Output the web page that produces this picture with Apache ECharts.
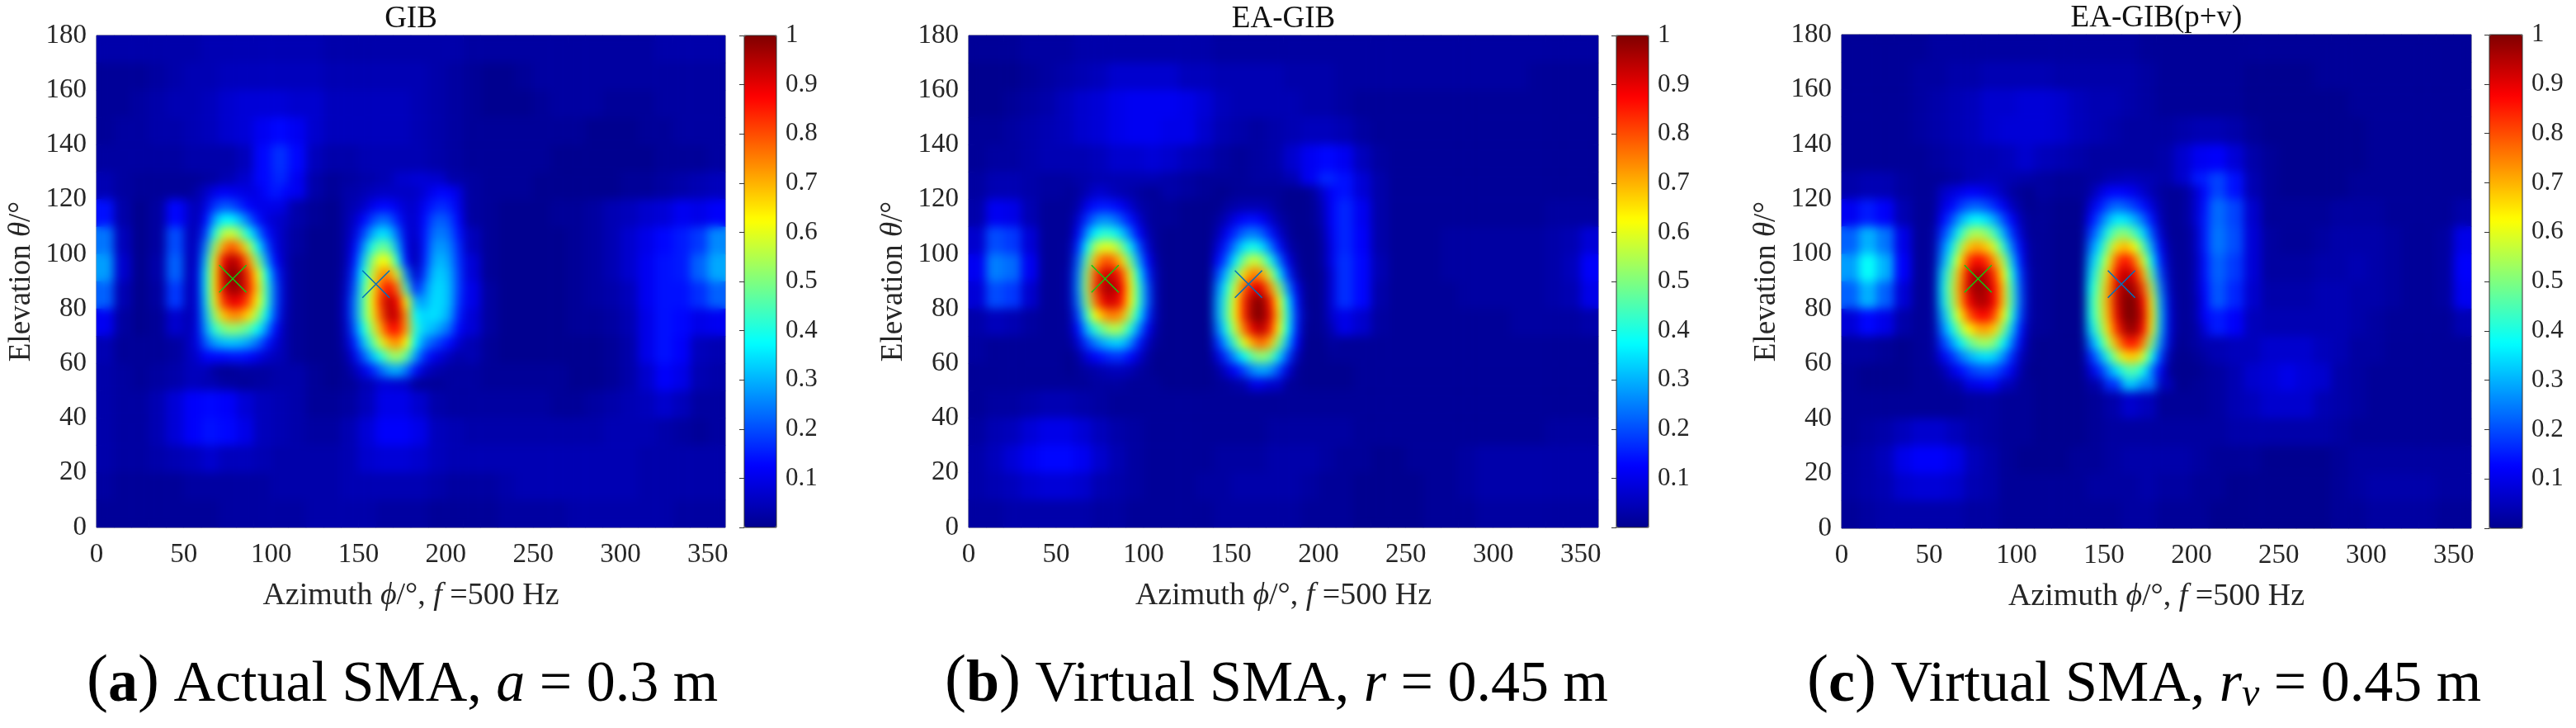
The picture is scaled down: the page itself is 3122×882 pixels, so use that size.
<!DOCTYPE html>
<html><head><meta charset="utf-8"><title>GIB heatmaps</title>
<script src="https://cdn.jsdelivr.net/npm/echarts@6/dist/echarts.min.js"></script>
<style>html,body{margin:0;padding:0;background:#fff}#c{width:3122px;height:882px}</style>
</head><body><div id="c"></div>
<script>
// Values are percent of the colour scale, rows listed from the top of the plot downward.
const azCoarse = [5,15,25,35,45,55,65,75,85,95,105,115,125,135,145,155,165,175,185,195,205,215,225,235,245,255,265,275,285,295,305,315,325,335,345,355];
const elCoarse = [175,165,155,145,135,125,115,105,95,85,75,65,55,45,35,25,15,5];
const azLeftFine = [57.5,62.5,67.5,72.5,77.5,82.5,87.5,92.5,97.5,102.5,107.5];
const azRightFine = [142.5,147.5,152.5,157.5,162.5,167.5,172.5,177.5,182.5,187.5,192.5,197.5,202.5,207.5];
const elFine = [122.5,117.5,112.5,107.5,102.5,97.5,92.5,87.5,82.5,77.5,72.5,67.5,62.5,57.5];

const gibCoarse = [
[3,3,3,3,3,3,4,4,4,4,4,4,4,3,3,3,3,3,3,3,3,2,2,2,2,2,2,2,2,2,2,2,3,3,3,3],
[1,1,1,2,3,4,4,5,5,5,5,5,5,4,4,4,4,4,4,3,2,1,0,0,1,2,2,2,2,2,2,2,2,2,2,2],
[1,1,2,3,4,4,5,7,8,8,8,7,7,5,5,5,5,5,4,3,2,1,0,0,0,1,2,2,2,1,1,1,2,2,2,2],
[1,2,2,3,3,4,5,7,8,11,13,11,7,5,5,5,5,5,4,3,2,1,1,1,1,1,1,1,0,0,0,1,1,2,2,2],
[2,2,2,2,2,3,3,3,5,13,17,13,5,3,3,4,4,4,4,3,2,1,1,1,1,1,0,0,0,0,0,0,1,1,1,2],
[4,2,1,1,1,1,2,4,7,13,16,11,3,1,2,3,4,7,8,7,3,2,1,1,1,0,0,0,0,0,1,1,2,3,4,5],
[14,3,0,2,13,7,28,35,28,18,10,3,1,0,2,7,14,13,16,17,8,2,1,0,0,0,1,1,2,4,5,7,8,11,10,12],
[24,5,0,2,20,5,50,62,55,30,10,2,0,0,2,15,30,25,12,20,17,5,1,0,0,0,0,1,2,4,7,10,13,15,18,26],
[28,7,0,3,22,4,60,95,70,32,10,1,0,0,3,25,55,40,4,28,25,8,1,0,0,0,0,1,2,4,7,11,14,15,22,29],
[22,4,0,2,18,4,55,85,70,30,7,1,0,0,4,30,70,65,18,30,28,10,2,0,0,0,0,1,2,3,5,11,14,14,17,22],
[11,2,0,1,7,4,35,50,42,17,3,1,0,0,4,30,65,72,30,28,25,8,2,0,0,0,0,1,1,2,4,10,14,13,10,11],
[4,1,1,1,2,5,14,16,14,7,3,1,0,0,3,17,38,45,22,16,12,4,1,0,0,0,0,0,0,1,3,10,14,12,5,4],
[3,2,1,2,3,5,4,2,1,2,3,3,1,0,1,4,8,7,1,1,2,2,1,1,1,1,1,0,0,1,3,7,12,10,4,3],
[3,2,2,4,8,12,13,12,8,5,4,3,1,1,2,5,10,10,7,3,2,2,2,2,2,2,1,1,2,3,4,5,7,5,2,2],
[3,2,2,4,8,12,14,13,10,5,4,3,2,2,4,8,12,12,10,5,4,3,3,3,3,3,3,3,3,4,4,4,3,2,1,2],
[3,2,2,3,4,5,7,5,5,4,3,3,3,3,4,7,8,8,7,5,4,4,4,4,4,4,4,4,4,4,4,3,3,3,3,3],
[2,1,1,1,1,2,2,2,2,2,3,3,3,3,4,4,4,4,4,3,2,2,2,3,4,4,4,4,4,4,4,3,3,3,3,3],
[1,1,1,1,1,1,1,2,2,2,2,2,3,3,3,3,2,2,2,1,1,1,1,2,2,2,2,3,3,3,3,3,3,2,2,2]];
const gibLeft = [
[3,6,10,12,11,10,9,10,13,15,13],
[4,9,17,21,20,16,12,10,10,10,9],
[4,13,28,37,37,31,22,14,9,7,6],
[5,18,40,55,58,50,38,25,14,8,5],
[6,25,52,72,80,72,56,37,20,9,5],
[7,31,60,88,96,90,72,50,28,12,5],
[8,35,64,92,100,96,82,62,38,17,6],
[8,35,64,90,98,96,84,66,42,20,6],
[8,33,60,82,90,88,78,62,42,20,6],
[8,30,52,68,74,73,65,52,36,18,5],
[9,27,42,49,52,50,46,38,26,13,4],
[9,21,28,31,32,31,28,23,15,8,4],
[7,12,13,13,14,14,13,10,7,5,4],
[5,5,2,1,1,2,2,2,2,3,3]];
const gibRight = [
[3,3,4,5,6,6,6,6,6,8,11,13,12,9],
[3,4,6,10,13,13,10,7,7,11,15,17,15,10],
[3,6,12,18,23,22,15,8,7,13,20,22,19,12],
[3,8,18,28,35,33,22,9,6,14,23,25,22,14],
[3,11,25,40,48,46,29,10,4,14,26,28,25,16],
[3,14,32,50,62,60,40,13,3,15,28,31,27,17],
[4,17,38,56,72,75,58,26,6,18,31,33,29,18],
[5,20,42,60,78,88,76,44,15,24,33,34,30,18],
[6,23,44,62,82,95,88,62,30,28,34,34,30,17],
[6,23,44,60,78,94,92,72,38,33,35,33,28,15],
[5,20,38,54,70,85,86,72,42,33,31,27,22,12],
[4,15,30,44,58,70,74,62,38,26,21,17,13,7],
[2,9,20,30,40,50,54,46,28,17,11,8,5,3],
[1,4,9,15,22,28,30,24,14,7,4,3,2,2]];

const eaCoarse = [
[1,1,1,2,2,2,3,3,3,3,3,3,3,3,2,2,2,2,2,2,2,2,2,2,2,2,2,2,2,2,2,2,2,2,2,2],
[0,0,0,1,2,3,4,5,7,7,7,7,5,5,4,4,4,4,3,3,3,2,2,2,2,2,2,2,2,2,2,2,1,1,1,1],
[0,0,1,2,3,5,7,8,10,11,11,11,10,8,5,4,4,4,4,3,3,2,1,1,1,1,1,1,1,1,1,1,1,1,1,1],
[1,1,2,3,4,5,7,8,10,11,11,10,10,7,4,3,2,3,4,5,5,4,2,1,1,1,1,1,1,1,1,1,1,1,1,1],
[1,2,2,3,4,4,4,5,7,7,8,7,5,4,2,1,2,3,7,11,13,11,5,2,1,1,1,1,1,1,1,1,1,1,1,1],
[2,4,4,3,2,2,3,4,4,4,4,3,2,1,1,1,2,2,4,11,16,14,8,3,1,1,1,1,1,1,1,1,1,1,1,1],
[3,11,10,4,1,1,8,13,13,8,3,1,0,0,1,3,4,2,1,7,14,16,11,3,1,1,1,1,1,1,1,1,1,2,2,2],
[7,20,18,8,1,1,15,32,30,15,3,0,0,0,2,14,20,13,2,3,13,16,12,3,1,1,1,2,2,2,2,2,2,3,4,8],
[11,25,23,11,1,1,18,70,65,25,4,0,0,0,3,28,52,35,5,2,12,17,13,4,1,1,1,2,2,2,2,2,2,3,5,12],
[8,20,18,7,1,1,17,80,85,30,5,0,0,0,4,36,85,60,12,2,11,17,13,3,1,1,1,1,2,2,2,2,2,3,4,10],
[3,5,4,2,1,1,13,50,55,22,3,0,0,0,4,30,85,60,12,1,7,10,7,2,1,1,1,1,1,1,1,2,2,2,2,3],
[2,1,1,1,1,1,5,17,20,8,1,0,0,0,2,17,38,30,5,0,1,1,1,1,1,1,1,1,1,1,1,1,1,1,1,1],
[1,1,1,1,1,1,1,2,2,1,1,0,0,0,1,3,10,7,1,0,0,0,1,1,1,1,1,1,1,1,1,1,1,1,1,1],
[1,2,2,3,4,4,3,2,1,1,1,1,1,1,1,1,1,1,1,1,1,1,1,1,1,1,1,1,1,1,1,1,1,1,1,1],
[2,4,5,8,10,10,8,5,3,2,1,1,1,1,1,1,1,2,2,2,2,2,1,1,1,1,1,1,1,1,1,1,1,2,2,2],
[3,5,8,11,13,13,11,7,4,2,1,1,1,1,2,2,2,3,3,3,2,1,1,0,0,1,1,1,2,3,3,3,3,3,3,3],
[3,4,5,7,8,8,7,4,3,2,1,1,1,2,2,3,3,3,3,2,1,1,0,0,0,0,1,1,2,3,3,3,3,3,3,3],
[2,2,3,3,3,3,3,2,2,1,1,1,1,1,2,2,2,2,2,1,1,1,0,0,0,0,1,1,1,2,2,2,2,2,2,2]];
const eaLeft = [
[1,2,4,7,7,5,4,3,2,1,1],
[1,3,10,14,15,14,11,7,3,2,1],
[1,7,17,24,27,25,20,14,7,2,1],
[1,11,26,37,42,40,33,23,12,4,1],
[2,16,37,55,60,59,50,36,20,7,1],
[2,21,46,70,80,78,67,48,28,12,2],
[3,24,52,80,92,92,82,60,36,16,3],
[3,25,53,82,95,96,88,64,42,20,3],
[3,23,50,76,90,92,85,63,42,21,3],
[2,18,42,62,72,76,72,54,36,17,3],
[2,13,30,42,50,55,53,40,25,11,2],
[1,7,18,25,30,33,33,26,15,5,1],
[0,2,8,12,15,17,17,13,7,2,0],
[0,1,2,3,4,5,5,4,2,1,0]];
const eaRight = [
[0,0,1,1,1,1,1,1,0,0,0,2,7,12],
[0,2,3,4,4,4,3,1,0,0,0,1,5,12],
[2,5,10,13,14,12,7,3,1,0,0,1,4,12],
[4,11,17,23,25,22,15,7,2,0,0,0,3,11],
[8,16,26,35,40,35,25,14,4,1,0,0,2,10],
[13,22,36,50,58,54,40,24,10,2,0,0,2,10],
[19,32,48,66,76,73,57,36,17,4,0,0,1,8],
[25,40,58,78,90,90,74,52,27,10,1,0,1,8],
[28,44,64,84,97,100,86,62,36,14,1,0,1,8],
[28,45,64,84,98,100,90,66,40,16,2,0,1,7],
[24,40,58,76,90,95,84,62,38,15,1,0,1,4],
[17,30,45,60,72,78,70,50,30,12,0,0,0,2],
[8,18,28,38,48,52,48,34,19,5,0,0,0,1],
[2,7,13,19,26,29,27,19,8,1,0,0,0,0]];

const pvCoarse = [
[1,1,1,1,1,2,2,2,2,2,2,2,2,2,2,2,2,1,1,1,1,1,1,1,1,1,1,1,1,1,1,1,1,1,1,1],
[1,1,1,1,2,2,3,3,4,4,4,4,3,3,3,3,3,2,1,1,1,1,1,0,0,0,0,1,1,1,1,1,1,1,1,1],
[1,1,1,1,2,3,4,5,7,7,8,8,7,5,4,4,3,2,1,1,1,1,1,0,0,0,0,0,0,1,1,1,1,1,1,1],
[1,1,1,1,2,3,4,5,7,8,8,8,7,5,4,3,2,2,2,3,4,4,3,1,0,0,0,0,0,0,1,1,1,1,1,1],
[1,1,1,1,1,2,3,4,4,5,7,5,4,3,2,2,2,2,3,7,11,12,8,3,1,0,0,0,0,0,1,1,1,1,1,1],
[3,4,4,2,1,1,2,4,5,4,3,2,1,1,2,4,5,4,3,7,15,19,14,4,1,0,0,0,0,1,1,1,1,1,1,1],
[11,15,12,4,1,1,10,16,16,11,4,1,0,0,4,14,16,10,3,5,17,23,19,7,1,1,1,1,2,2,2,1,1,1,1,3],
[22,30,24,10,1,2,22,45,42,22,7,1,0,0,10,30,38,21,4,4,17,24,20,8,2,1,1,2,3,3,3,2,1,1,2,10],
[28,38,30,12,1,2,30,80,75,33,10,1,0,0,12,42,75,45,10,3,15,22,18,8,2,2,2,3,3,4,3,2,1,1,2,12],
[22,30,22,8,1,2,30,88,90,38,11,1,0,0,13,50,92,60,14,2,13,21,16,7,3,3,3,4,4,3,3,2,1,1,2,11],
[8,13,10,3,1,2,22,62,68,30,8,1,0,0,12,48,95,65,15,1,8,15,12,5,4,4,4,4,4,3,2,1,1,1,1,4],
[2,2,1,0,1,2,12,28,33,17,4,0,0,0,7,33,65,48,12,0,2,4,5,5,7,7,7,5,4,2,2,1,1,1,1,1],
[1,0,0,0,1,1,3,10,12,5,1,0,0,0,3,17,32,25,5,0,1,2,4,7,8,10,8,7,3,2,1,1,1,1,1,1],
[1,1,1,1,1,1,1,2,2,1,1,0,0,0,1,3,7,5,1,1,1,2,4,5,7,7,7,4,3,2,1,1,1,1,1,1],
[1,2,3,5,7,7,5,3,2,1,1,0,0,0,1,2,2,2,2,2,2,2,3,3,3,3,3,3,2,1,1,1,1,1,1,1],
[2,3,5,10,12,12,10,5,3,1,0,0,0,1,1,2,3,3,3,3,2,1,1,1,0,0,0,0,1,2,2,2,2,2,2,2],
[2,3,4,7,8,8,7,4,3,1,1,1,1,1,2,2,2,3,2,2,1,1,0,0,0,0,0,0,1,2,3,3,3,3,2,2],
[1,2,3,3,3,3,3,2,2,1,1,1,1,1,1,1,2,2,1,1,1,0,0,0,0,0,0,0,1,1,2,2,2,2,1,1]];
const pvLeft = [
[6,8,10,12,12,10,8,5,2,1,0],
[8,12,17,21,22,20,16,11,5,2,0],
[12,19,28,35,38,35,29,20,12,4,1],
[17,27,40,52,55,52,44,30,17,7,1],
[22,35,52,68,72,68,58,42,24,11,2],
[26,42,62,82,88,84,72,55,32,14,2],
[32,49,70,90,97,93,83,63,39,17,3],
[34,52,72,92,98,96,87,68,43,19,3],
[33,50,70,88,95,95,88,68,44,20,3],
[28,44,62,78,86,88,80,62,40,18,3],
[23,36,50,62,70,72,67,50,32,14,2],
[17,26,36,46,52,54,50,38,24,10,1],
[10,16,23,29,33,35,33,26,16,5,1],
[3,8,13,17,20,21,20,16,10,3,0]];
const pvRight = [
[3,8,12,13,12,10,7,4,2,1,1,2,7,13],
[8,14,20,23,21,18,14,8,3,1,1,2,7,14],
[13,21,30,36,35,30,23,14,4,1,1,2,7,15],
[18,28,41,50,51,45,34,20,7,1,1,1,5,15],
[24,35,51,66,70,62,46,28,11,2,1,1,5,15],
[30,42,60,80,87,78,59,36,15,3,1,1,4,14],
[34,48,67,88,95,89,71,45,19,4,1,1,4,14],
[38,52,71,92,98,96,81,54,24,5,1,1,4,13],
[40,54,72,92,100,100,88,60,28,7,1,1,3,12],
[39,53,70,90,100,100,91,64,30,8,1,1,3,12],
[34,48,66,84,96,98,87,60,29,8,1,1,2,8],
[25,39,56,72,84,86,75,50,25,7,0,1,2,4],
[16,27,41,55,66,68,58,38,18,3,0,0,1,2],
[8,16,26,35,44,46,39,24,11,1,0,0,0,1]];

const panelTitles = ['GIB','EA-GIB','EA-GIB(p+v)'];
const captions = [
  '{p|(}{b|a}{p|)}{t| Actual SMA, }{i|a}{t| = 0.3 m}',
  '{p|(}{b|b}{p|)}{t| Virtual SMA, }{i|r}{t| = 0.45 m}',
  '{p|(}{b|c}{p|)}{t| Virtual SMA, }{i|r}{s|v}{t| = 0.45 m}'];
const xTicks = [0,50,100,150,200,250,300,350];
const targetsA = [[78,91]];     // green cross
const targetsB = [[160,89]];    // blue cross
const jet = ['#00008f','#0000ff','#007fff','#00ffff','#7fff7f','#ffff00','#ff7f00','#ff0000','#800000'];

const FONT = 'Liberation Serif', INK = '#262626';
const layout = [
  {l:117,r:879,t:43,b:639,cl:902,cr:941,capX:105},
  {l:1174,r:1937,t:43,b:639,cl:1959,cr:1998,capX:1145},
  {l:2232,r:2995,t:42,b:640,cl:3017,cr:3057,capX:2190}];
const W = 3122, H = 882;
const grids=[],xAxes=[],yAxes=[],series=[],visualMaps=[],graphics=[];

const azAll=[],elAll=[];
for(const a of azCoarse){azAll.push(a-2.5,a+2.5);}
const ascEl=[...elCoarse].reverse();
for(const e of ascEl){elAll.push(e-2.5,e+2.5);}

function cells(matrix,azs,els,azAxis,elAxis){
  const out=[];
  matrix.forEach((row,r)=>row.forEach((v,c)=>{out.push([azAxis.indexOf(azs[c]),elAxis.indexOf(els[r]),v]);}));
  return out;
}
const sets=[[gibCoarse,gibLeft,gibRight],[eaCoarse,eaLeft,eaRight],[pvCoarse,pvLeft,pvRight]];

layout.forEach((g,p)=>{
  const mainGrid=grids.length;
  grids.push({left:g.l,top:g.t,width:g.r-g.l,height:g.b-g.t,show:true,borderColor:'#666',borderWidth:1,containLabel:false});
  const cbGrid=grids.length;
  grids.push({left:g.cl,top:g.t,width:g.cr-g.cl,height:g.b-g.t,show:true,borderColor:'#333',borderWidth:1,z:6,backgroundColor:'transparent'});

  const xVal=xAxes.length;
  xAxes.push({type:'value',gridIndex:mainGrid,min:0,max:360,interval:50,position:'bottom',z:5,
    axisLine:{show:false},axisTick:{show:false},splitLine:{show:false},
    axisLabel:{color:INK,fontFamily:FONT,fontSize:33,margin:17,formatter:v=>xTicks.includes(v)?String(v):''},
    name:'{n|Azimuth }{i|\u03d5}{n|/\u00b0, }{i|f}{n| =500 Hz}',nameLocation:'middle',nameGap:64,
    nameTextStyle:{rich:{n:{fontFamily:FONT,fontSize:38,color:INK},i:{fontFamily:FONT,fontStyle:'italic',fontSize:38,color:INK}}}});
  const xC=xAxes.length; xAxes.push({type:'category',gridIndex:mainGrid,data:azCoarse,show:false});
  const xF=xAxes.length; xAxes.push({type:'category',gridIndex:mainGrid,data:azAll,show:false});
  const yVal=yAxes.length;
  yAxes.push({type:'value',gridIndex:mainGrid,min:0,max:180,interval:20,position:'left',z:5,
    axisLine:{show:false},axisTick:{show:false},splitLine:{show:false},
    axisLabel:{color:INK,fontFamily:FONT,fontSize:33,margin:12},
    name:'{n|Elevation }{i|\u03b8}{n|/\u00b0}',nameLocation:'middle',nameGap:72,
    nameTextStyle:{rich:{n:{fontFamily:FONT,fontSize:37,color:INK},i:{fontFamily:FONT,fontStyle:'italic',fontSize:37,color:INK}}}});
  const yC=yAxes.length; yAxes.push({type:'category',gridIndex:mainGrid,data:ascEl,show:false});
  const yF=yAxes.length; yAxes.push({type:'category',gridIndex:mainGrid,data:elAll,show:false});

  const [coarse,left,right]=sets[p];
  const coarseCells=cells(coarse,azCoarse,elCoarse,azCoarse,ascEl);
  const fineCells=cells(left,azLeftFine,elFine,azAll,elAll).concat(cells(right,azRightFine,elFine,azAll,elAll));
  const s0=series.length;
  // zlevel 0: crisp cells under the plot edge; zlevel 1: the same cells, softened by a CSS blur on that layer
  [0,1].forEach(zl=>{
    series.push({type:'heatmap',xAxisIndex:xC,yAxisIndex:yC,data:coarseCells,progressive:0,z:2,zlevel:zl,emphasis:{disabled:true},silent:true});
    series.push({type:'heatmap',xAxisIndex:xF,yAxisIndex:yF,data:fineCells,progressive:0,z:3,zlevel:zl,emphasis:{disabled:true},silent:true});
  });
  const cross='path://M0 0L10 10M10 0L0 10';
  series.push({type:'scatter',xAxisIndex:xVal,yAxisIndex:yVal,data:targetsA,symbol:cross,symbolSize:33,z:4,zlevel:2,silent:true,itemStyle:{color:'none',borderColor:'#12c912',borderWidth:1.5,opacity:1}});
  series.push({type:'scatter',xAxisIndex:xVal,yAxisIndex:yVal,data:targetsB,symbol:cross,symbolSize:33,z:4,zlevel:2,silent:true,itemStyle:{color:'none',borderColor:'#0072bd',borderWidth:1.5,opacity:1}});

  visualMaps.push({type:'continuous',seriesIndex:[s0,s0+1,s0+2,s0+3],min:0,max:100,calculable:false,showLabel:false,text:null,
    left:g.cl,top:g.t,itemWidth:g.cr-g.cl,itemHeight:g.b-g.t,padding:0,hoverLink:false,z:4,inRange:{color:jet}});

  xAxes.push({type:'value',gridIndex:cbGrid,min:0,max:1,show:false});
  yAxes.push({type:'value',gridIndex:cbGrid,min:0,max:1,interval:0.1,position:'right',z:7,
    axisLine:{show:false},axisTick:{show:true,inside:true,length:6,lineStyle:{color:'#333',width:1}},splitLine:{show:false},
    axisLabel:{color:INK,fontFamily:FONT,fontSize:31,margin:11,formatter:v=>v===0?'':String(+v.toFixed(1))}});

  const cx=(g.l+g.r)/2;
  graphics.push({type:'text',x:cx,y:g.t-20,z:10,zlevel:3,style:{text:panelTitles[p],fontFamily:FONT,fontSize:37,fill:'#111',textAlign:'center',textVerticalAlign:'middle'}});
  const capFs=70;
  graphics.push({type:'text',x:g.capX,y:822,z:10,style:{text:captions[p],textAlign:'left',textVerticalAlign:'middle',
    rich:{p:{fontFamily:FONT,fontSize:capFs+8,fill:'#000',verticalAlign:'bottom',lineHeight:88},
      b:{fontFamily:FONT,fontWeight:'bold',fontSize:capFs+2,fill:'#000',verticalAlign:'bottom',lineHeight:88},
      t:{fontFamily:FONT,fontSize:capFs,fill:'#000',verticalAlign:'bottom',lineHeight:88},
      i:{fontFamily:FONT,fontStyle:'italic',fontSize:capFs,fill:'#000',verticalAlign:'bottom',lineHeight:88},
      s:{fontFamily:FONT,fontStyle:'italic',fontSize:48,fill:'#000',verticalAlign:'bottom',lineHeight:74}}}});
});

const chart=echarts.init(document.getElementById('c'),null,{renderer:'canvas',width:W,height:H});
chart.setOption({animation:false,backgroundColor:'#fff',grid:grids,xAxis:xAxes,yAxis:yAxes,series,visualMap:visualMaps,graphic:{elements:graphics},tooltip:{show:false}});

function softenHeatLayer(){
  const layer=document.querySelector('#c canvas[data-zr-dom-id="zr_1"]');
  if(!layer) return;
  layer.style.filter='blur(6px)';
  const d=layout.map(g=>`M${g.l} ${g.t}H${g.r}V${g.b}H${g.l}Z`).join('');
  layer.style.clipPath=`path('${d}')`;
}
softenHeatLayer();
chart.on('finished',softenHeatLayer);
</script></body></html>
